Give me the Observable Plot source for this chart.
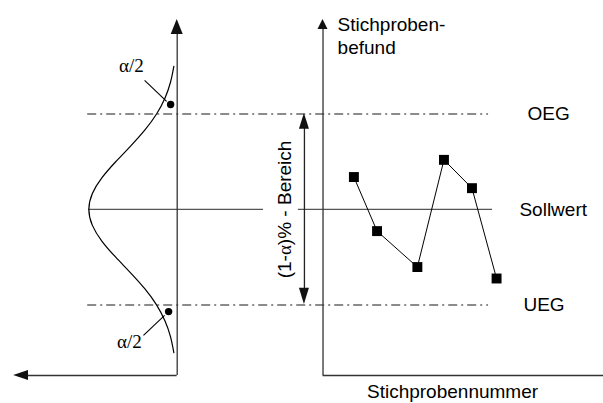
<!DOCTYPE html>
<html><head><meta charset="utf-8">
<script src="https://cdn.jsdelivr.net/npm/d3@7"></script>
<script src="https://cdn.jsdelivr.net/npm/@observablehq/plot@0.6"></script>
<style>html,body{margin:0;padding:0;background:#fff}</style>
</head><body><div id="chart"></div>
<script>
// ---- data ----
// Stichprobennummer: position of each sample along the right x axis
const stichprobe = [1.08, 1.89, 3.30, 4.23, 5.21, 6.07];
// Stichprobenbefund in sigma units (Sollwert = 0)
const befund = [1.02, -0.68, -1.81, 1.56, 0.67, -2.17];
// Grenzen
const grenzen = ["OEG", "Sollwert", "UEG"];
const grenzWerte = [3, 0, -3];
// Dichtekurve (relative density)
const kurveY = [-4.5, -4, -3.5, -3, -2.5, -2, -1.5, -1, -0.5, 0, 0.5, 1, 1.5, 2, 2.5, 3, 3.5, 4, 4.5];
const kurveDichte = [0.038, 0.076, 0.139, 0.234, 0.365, 0.525, 0.696, 0.851, 0.960, 1, 0.960, 0.851, 0.696, 0.525, 0.365, 0.234, 0.139, 0.076, 0.038];
// texts
const yTitel = "Stichproben-\nbefund";
const xTitel = "Stichprobennummer";
const bereichText = "(1-α)% - Bereich";
const alphaText = "α/2";

// ---- layout ----
const L = -5.10;      // left (density) axis
const AMP = 3.09;     // density width
const TOP = 5.97, BOT = -5.22;
const SANS = "Liberation Sans, Arial, Helvetica, sans-serif";
const SERIF = "Liberation Serif, Times New Roman, serif";
const AX = "#333", DASH = "#666";

const curve = kurveY.map((y, i) => ({y, x: L - AMP * kurveDichte[i]}));
const punkte = stichprobe.map((x, i) => ({x, y: befund[i]}));
const labelX = [7.15, 6.87, 7.01];
const labels = grenzen.map((t, i) => ({t, y: grenzWerte[i], x: labelX[i]}));

function triV(id, cx, tip, base, hw) {
  return [{id, y: tip, x1: cx, x2: cx}, {id, y: base, x1: cx - hw, x2: cx + hw}];
}
function triH(id, cy, tip, base, hh) {
  return [{id, x: tip, y1: cy, y2: cy}, {id, x: base, y1: cy - hh, y2: cy + hh}];
}
const headsV = [
  ...triV("la", L, TOP, 5.50, 0.21),
  ...triV("ra", 0, TOP, 5.66, 0.175),
  ...triV("dt", -0.65, grenzWerte[0] + 0.02, 2.52, 0.175),
  ...triV("db", -0.65, grenzWerte[2] + 0.01, -2.48, 0.175)
];
const headsH = triH("ba", BOT, -10.82, -10.30, 0.157);

const chart = Plot.plot({
  width: 603, height: 403,
  margin: 0,
  x: {domain: [-11.28, 9.81], axis: null},
  y: {domain: [-6.10, 6.57], axis: null},
  style: {fontFamily: SANS, background: "#fff"},
  marks: [
    // OEG / UEG dash-dot lines
    Plot.ruleY([grenzWerte[0], grenzWerte[2]], {x1: -8.23, x2: 5.79, stroke: DASH, strokeWidth: 1.5, strokeDasharray: "9,4,2,4"}),
    // Sollwert line (interrupted by the rotated label)
    Plot.ruleY([grenzWerte[1]], {x1: -8.20, x2: -2.08, stroke: "#555", strokeWidth: 1.3}),
    Plot.ruleY([grenzWerte[1]], {x1: -0.86, x2: 5.93, stroke: "#555", strokeWidth: 1.3}),
    // axes
    Plot.ruleX([L], {y1: BOT, y2: 5.55, stroke: AX, strokeWidth: 1.3}),
    Plot.ruleY([BOT], {x1: -10.35, x2: L, stroke: AX, strokeWidth: 1.3}),
    Plot.ruleX([0], {y1: BOT, y2: 5.7, stroke: AX, strokeWidth: 1.3}),
    Plot.ruleY([BOT], {x1: 0, x2: 9.81, stroke: AX, strokeWidth: 1.3}),
    // double arrow
    Plot.ruleX([-0.65], {y1: -2.55, y2: 2.6, stroke: "#222", strokeWidth: 1.3}),
    Plot.areaX(headsV, {y: "y", x1: "x1", x2: "x2", z: "id", fill: "#111"}),
    Plot.areaY(headsH, {x: "x", y1: "y1", y2: "y2", z: "id", fill: "#111"}),
    // density curve
    Plot.line(curve, {x: "x", y: "y", curve: "natural", stroke: "#000", strokeWidth: 1.2}),
    // alpha/2 markers
    Plot.link([{x1: -6.24, y1: 4.06, x2: -5.47, y2: 3.40}, {x1: -5.54, y1: -3.33, x2: -6.28, y2: -3.96}],
      {x1: "x1", y1: "y1", x2: "x2", y2: "y2", stroke: "#000", strokeWidth: 1.1}),
    Plot.dot([{x: -5.33, y: 3.30}, {x: -5.40, y: -3.21}], {x: "x", y: "y", r: 3.7, fill: "#000"}),
    Plot.text([{x: -6.70, y: 4.50}, {x: -6.77, y: -4.15}], {x: "x", y: "y", text: () => alphaText, fontFamily: SERIF, fontSize: 19, fill: "#000"}),
    // sample data
    Plot.line(punkte, {x: "x", y: "y", stroke: "#000", strokeWidth: 1}),
    Plot.dot(punkte, {x: "x", y: "y", symbol: "square", r: 5.6, fill: "#000"}),
    // labels
    Plot.text(labels, {x: "x", y: "y", text: "t", textAnchor: "start", fontSize: 19, fill: "#000"}),
    Plot.text([yTitel], {x: 0.51, y: 5.47, text: d => d, textAnchor: "start", fontSize: 19, lineHeight: 1.2, fill: "#000"}),
    Plot.text([xTitel], {x: 4.53, y: -5.74, text: d => d, textAnchor: "middle", fontSize: 19, fill: "#000"}),
    Plot.text([bereichText], {x: -1.35, y: 0.0, text: d => d, rotate: -90, fontSize: 19, fill: "#000"})
  ]
});
document.getElementById("chart").appendChild(chart);

// render the Greek alpha inside the rotated label in a serif face
d3.select(chart).selectAll("text").each(function() {
  const el = d3.select(this);
  if (el.selectAll("tspan").size() > 0) return;
  const s = this.textContent;
  if (s === bereichText) {
    el.text(null);
    s.split(/(α)/).forEach(part => {
      if (!part) return;
      const t = el.append("tspan").text(part);
      if (part === "α") t.attr("font-family", SERIF);
    });
  }
});
</script>
</body></html>
